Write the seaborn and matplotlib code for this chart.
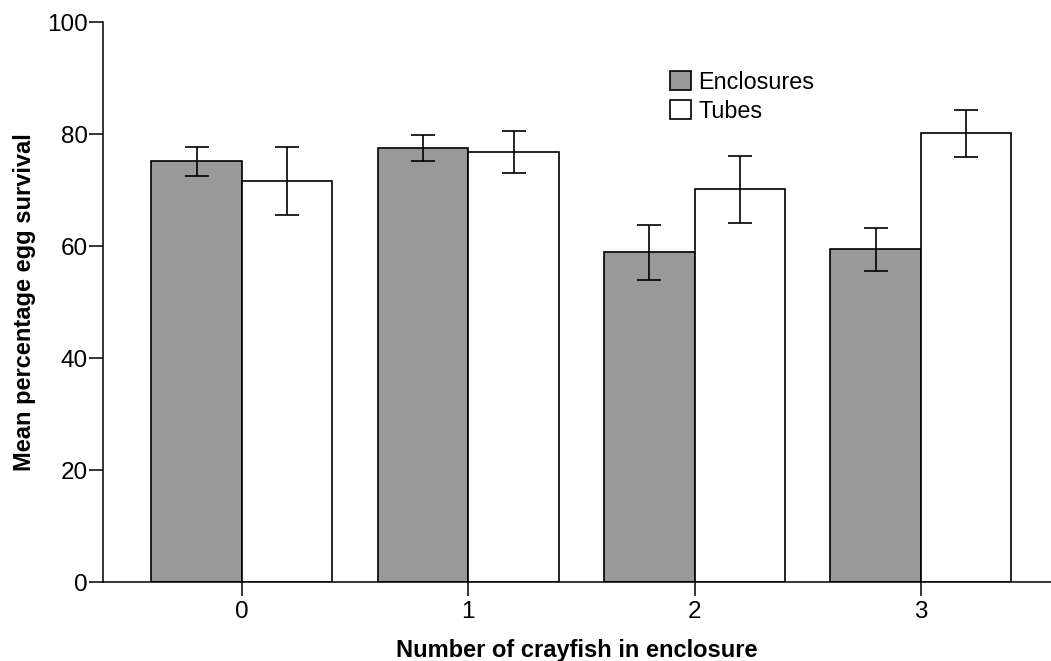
"""
Mean egg survival by crayfish density, enclosures vs tubes.
Bar chart with standard-error bars, recreated with seaborn.
"""

import numpy as np
import pandas as pd
import matplotlib
matplotlib.use("Agg")
import matplotlib.pyplot as plt
import seaborn as sns

# ─────────────────────────────────────────────
# DATA
# ─────────────────────────────────────────────
crayfish = ["0", "1", "2", "3"]
treatments = ["Enclosures", "Tubes"]
enclosure_mean = [75.1, 77.5, 58.9, 59.4]
enclosure_err = [2.6, 2.4, 4.9, 3.9]
tube_mean = [71.6, 76.8, 70.1, 80.1]
tube_err = [6.1, 3.7, 6.0, 4.2]

df = pd.DataFrame({
    "crayfish": crayfish * 2,
    "treatment": [treatments[0]] * 4 + [treatments[1]] * 4,
    "mean": enclosure_mean + tube_mean,
    "err": enclosure_err + tube_err,
})

# ─────────────────────────────────────────────
# STYLE
# ─────────────────────────────────────────────
sns.set_style("ticks")
plt.rcParams["font.family"] = ["Liberation Sans", "DejaVu Sans"]
plt.rcParams["text.color"] = "black"
plt.rcParams["axes.labelcolor"] = "black"

fig = plt.figure(figsize=(10.51, 6.61), dpi=100)
ax = fig.add_axes([0.098, 0.1195, 0.902, 0.8472])

palette = {"Enclosures": "#999999", "Tubes": "#ffffff"}
sns.barplot(data=df, x="crayfish", y="mean", hue="treatment",
            order=crayfish, hue_order=treatments, palette=palette,
            errorbar=None, width=0.8, edgecolor="black", linewidth=1.2,
            saturation=1, ax=ax)

# error bars on top of each bar, positions taken from the drawn patches
for container, tr in zip(ax.containers, treatments):
    sub = df[df["treatment"] == tr].set_index("crayfish").loc[crayfish]
    xs = [p.get_x() + p.get_width() / 2 for p in container.patches]
    ax.errorbar(xs, sub["mean"], yerr=sub["err"], fmt="none",
                ecolor="black", elinewidth=1.2, capsize=8.3, capthick=1.2)

# ─────────────────────────────────────────────
# AXES
# ─────────────────────────────────────────────
ax.set_ylim(0, 100)
ax.set_yticks([0, 20, 40, 60, 80, 100])
ax.set_xlim(-0.614, 3.575)
sns.despine(ax=ax)
for s in ["left", "bottom"]:
    ax.spines[s].set_linewidth(1.1)
    ax.spines[s].set_color("black")
ax.tick_params(axis="both", length=10, width=1.1, color="black",
               labelsize=17.5, labelcolor="black")
ax.tick_params(axis="y", pad=1)
ax.tick_params(axis="x", pad=4)

ax.set_xlabel("Number of crayfish in enclosure", fontsize=17,
              fontweight="bold", labelpad=11, color="black")
ax.set_ylabel("Mean percentage egg survival", fontsize=17,
              fontweight="bold", labelpad=8, color="black")

leg = ax.legend(loc="upper left", bbox_to_anchor=(0.598, 0.913),
                frameon=False, fontsize=16.8, borderpad=0, borderaxespad=0,
                handlelength=0.9, handleheight=0.9, handletextpad=0.33,
                labelspacing=0.25)
for h in leg.legend_handles:
    h.set_edgecolor("black")
    h.set_linewidth(1.2)
for t in leg.get_texts():
    t.set_color("black")

fig.savefig("out.png", dpi=100)
